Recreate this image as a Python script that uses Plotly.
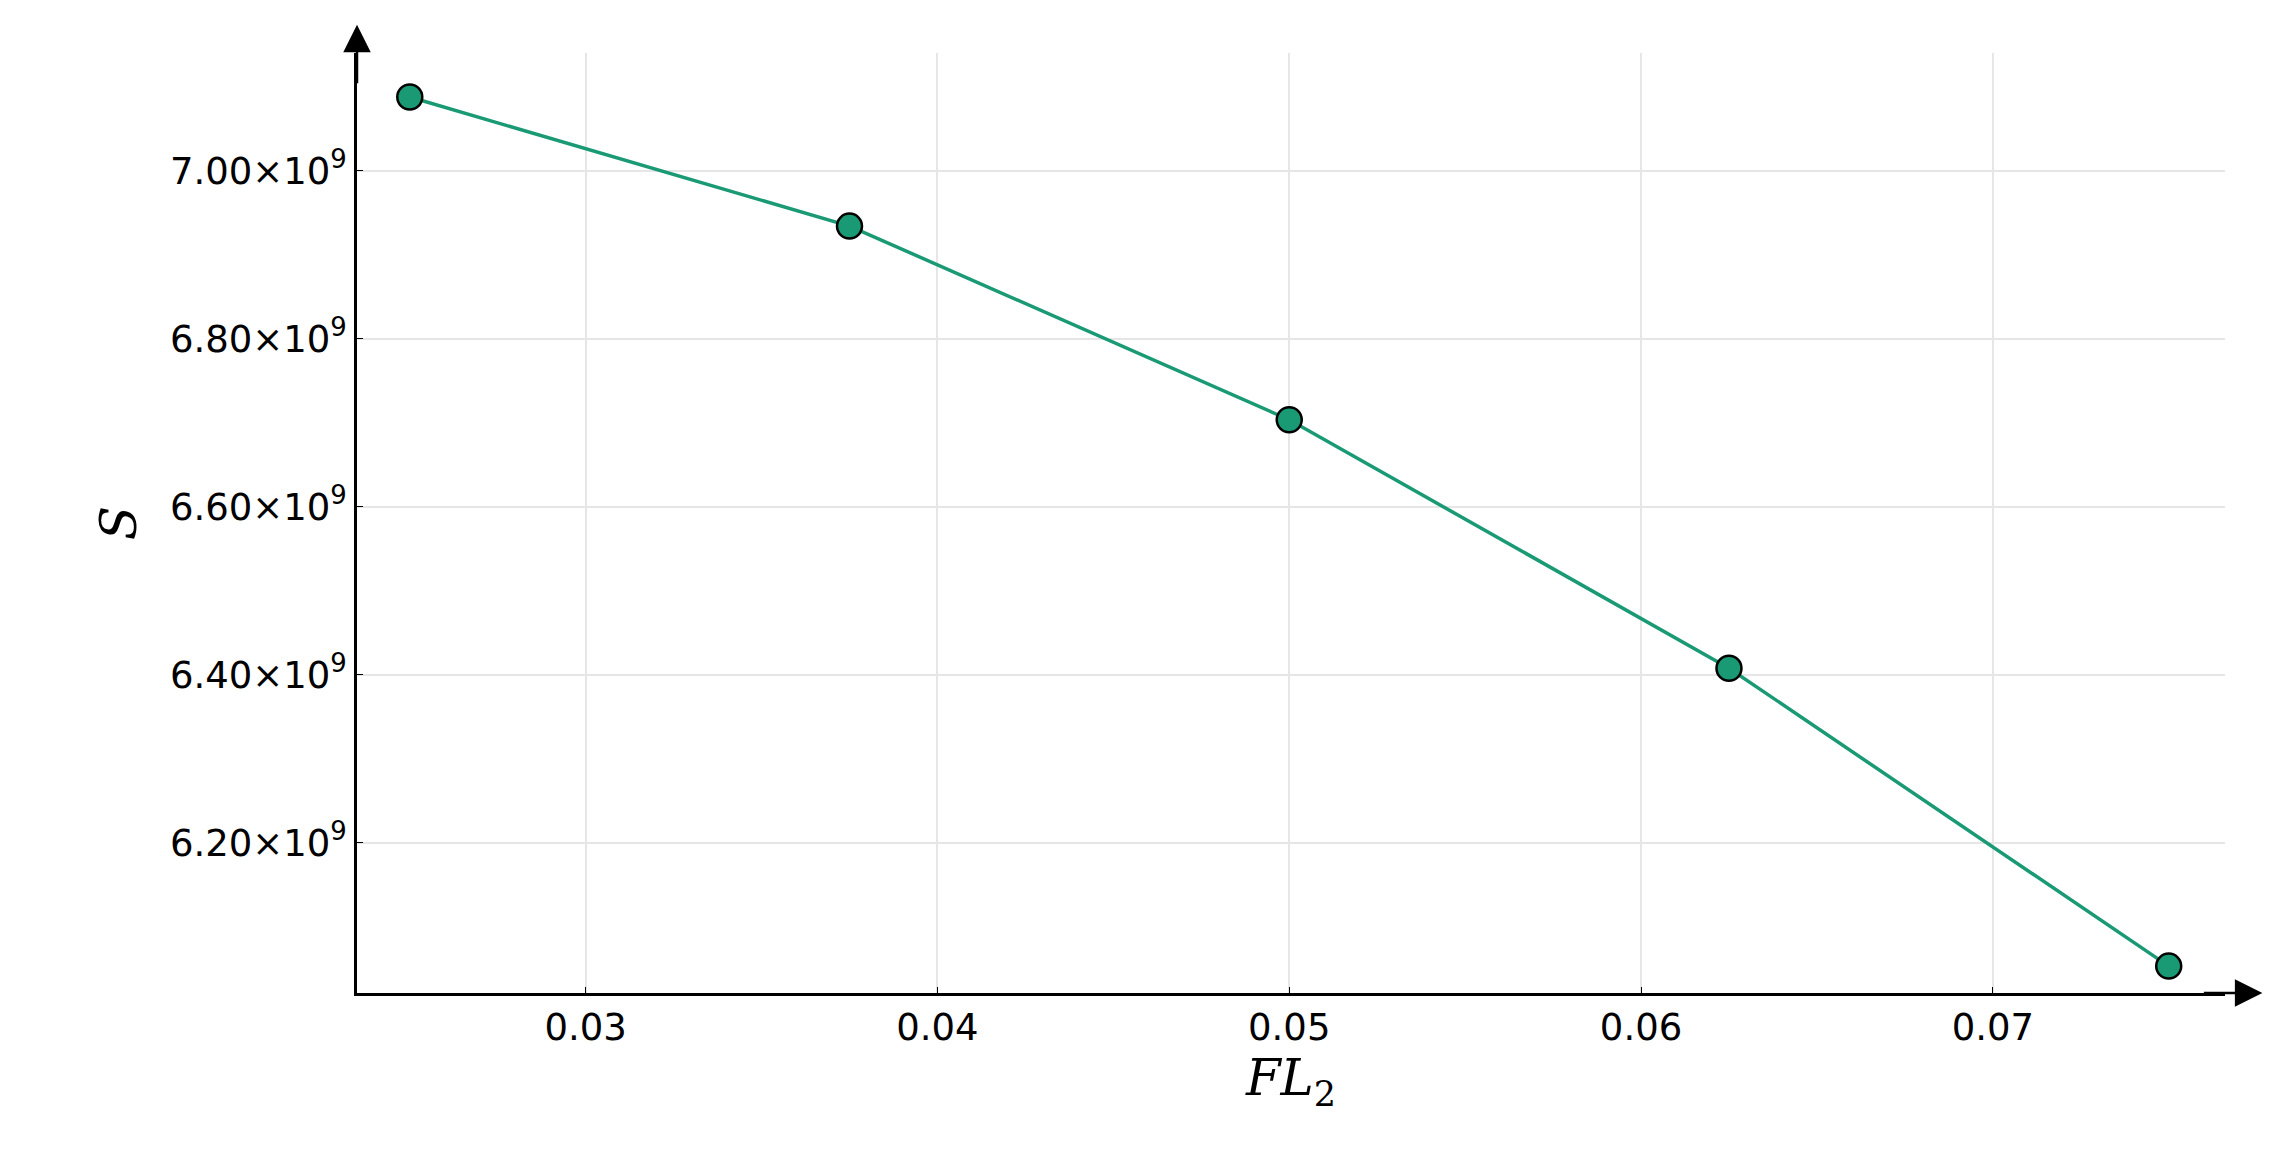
import plotly.graph_objects as go

x = [0.025, 0.0375, 0.05, 0.0625, 0.075]
y = [7.0876e9, 6.934e9, 6.7036e9, 6.408e9, 6.0535e9]
ytickvals = [6.2e9, 6.4e9, 6.6e9, 6.8e9, 7.0e9]
yticktext = ["6.20×10<sup>9</sup>", "6.40×10<sup>9</sup>", "6.60×10<sup>9</sup>", "6.80×10<sup>9</sup>", "7.00×10<sup>9</sup>"]
xtickvals = [0.03, 0.04, 0.05, 0.06, 0.07]
xticktext = ["0.03", "0.04", "0.05", "0.06", "0.07"]

fig = go.Figure(go.Scatter(
    x=x, y=y, mode="lines+markers",
    line=dict(color="#1a9a74", width=3.5),
    marker=dict(size=25, color="#1a9a74", line=dict(color="black", width=2.5)),
))
ax = dict(showline=True, linecolor="black", linewidth=2.5, ticks="inside", ticklen=6,
          tickcolor="black", showgrid=True, gridcolor="#e6e6e6", gridwidth=1.5,
          zeroline=False, tickfont=dict(size=37, color="black"))
fig.update_xaxes(range=[0.0235, 0.0766], tickvals=xtickvals, ticktext=xticktext,
                 title=dict(text="<i>FL</i><sub>2</sub>", font=dict(size=50, family="DejaVu Serif"), standoff=12), **ax)
fig.update_yaxes(range=[6.0215e9, 7.14e9], tickvals=ytickvals, ticktext=yticktext,
                 title=dict(text="<i>S</i>", font=dict(size=50, family="DejaVu Serif"), standoff=18), **ax)
fig.add_annotation(xref="paper", yref="paper", x=1.02, y=0, ax=-60, ay=0, text="",
                   showarrow=True, arrowhead=2, arrowsize=2.2, arrowwidth=2.5, arrowcolor="black")
fig.add_annotation(xref="paper", yref="paper", x=0, y=1.03, ax=0, ay=60, text="",
                   showarrow=True, arrowhead=2, arrowsize=2.2, arrowwidth=2.5, arrowcolor="black")
fig.update_layout(width=2272, height=1165, plot_bgcolor="white", paper_bgcolor="white",
                  showlegend=False, font=dict(family="DejaVu Sans", color="black"),
                  margin=dict(l=349, r=55, t=45, b=180))
fig.write_html("out.html")
